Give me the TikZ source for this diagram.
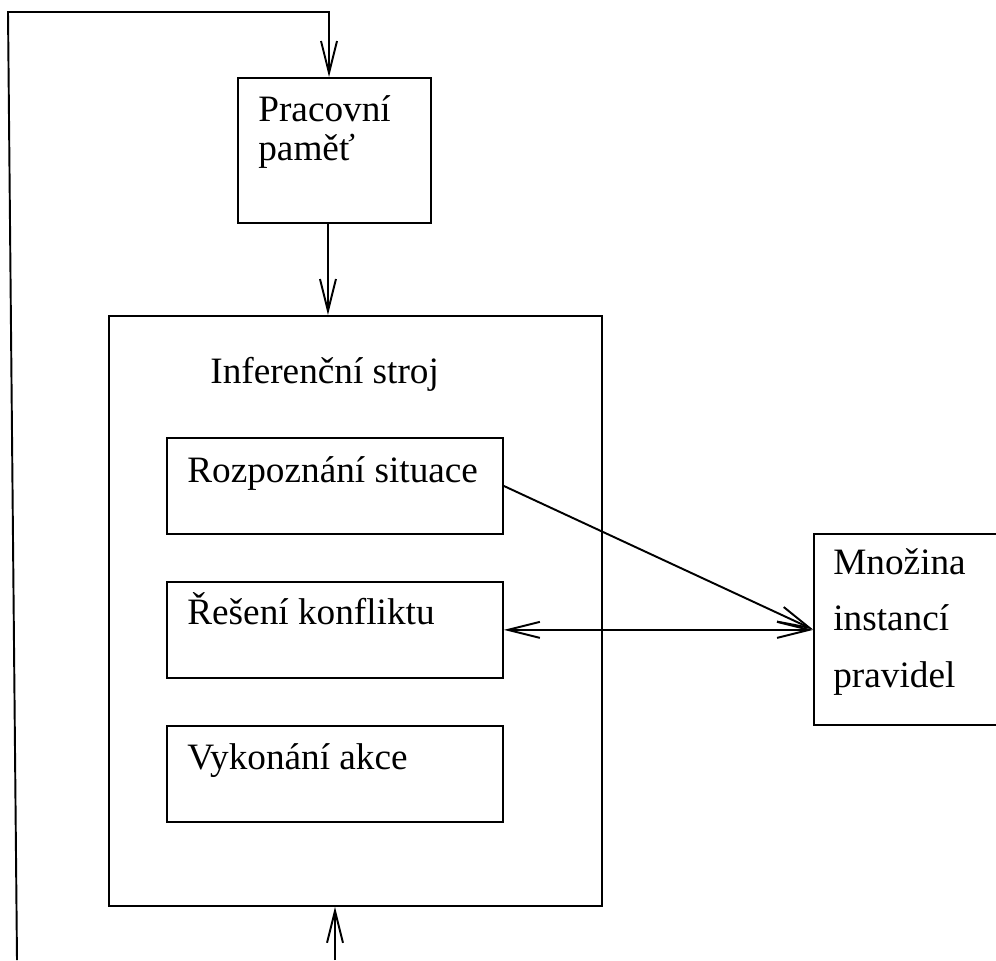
\documentclass[tikz,border=0pt]{standalone}
\usepackage{fontspec}
\setmainfont{Liberation Serif}
\usetikzlibrary{positioning,arrows.meta,calc}
\tikzset{
  flow/.style={-{Straight Barb[length=0.64cm,width=0.32cm]},line width=1.1pt},
  twoway/.style={{Straight Barb[length=0.64cm,width=0.32cm]}-{Straight Barb[length=0.64cm,width=0.32cm]},line width=1.1pt},
  box/.style={draw,line width=1.1pt,inner sep=0pt},
  stepbox/.style={box,minimum width=6.72cm,minimum height=1.92cm},
  txt/.style={inner sep=0pt,anchor=base west,align=left}
}
\begin{document}
\begin{tikzpicture}[x=0.02cm,y=-0.02cm,node distance=0.92cm,font=\fontsize{21.2pt}{22pt}\selectfont]
  \useasboundingbox (0,0) rectangle (996,960);
  % boxes
  \node[box,anchor=north west,minimum width=3.86cm,minimum height=2.9cm] (pam) at (237,77) {};
  \node[box,anchor=north west,minimum width=9.86cm,minimum height=11.8cm] (inf) at (108,315) {};
  \node[stepbox,anchor=north west] (rozp) at (166,437) {};
  \node[stepbox,below=of rozp] (res) {};
  \node[stepbox,below=of res] (vyk) {};
  \node[box,anchor=north west,minimum width=4cm,minimum height=3.82cm] (mno) at (813,533) {};
  % texts (base = last line)
  \node[txt] (pamtxt) at ($(pam.north west)+(21,83)$) {Pracovní\\paměť};
  \node[txt] (inftxt) at ($(inf.north west)+(102,68)$) {Inferenční stroj};
  \node[txt] (rozptxt) at ($(rozp.north west)+(21,45)$) {Rozpoznání situace};
  \node[txt] (restxt) at ($(res.north west)+(21,44)$) {Řešení konfliktu};
  \node[txt] (vyktxt) at ($(vyk.north west)+(21,45)$) {Vykonání akce};
  \node[txt,font=\fontsize{21.2pt}{31.9pt}\selectfont] (mnotxt) at ($(mno.north west)+(20,154)$) {Množina\\instancí\\pravidel};
  % connectors
  \draw[flow] ([xshift=-0.13cm]pam.south) -- ([xshift=-0.13cm]pam.south |- inf.north);
  \draw[flow] (rozp.east) -- (mno.west);
  \draw[twoway] (res.east) -- (res.east -| mno.west);
  % loop round the left side
  \coordinate (loopbl) at (17,960);
  \coordinate (looptl) at (8,12);
  \coordinate (looptr) at (329,12);
  \coordinate (loopin) at (335,960);
  \draw[flow] (loopbl) -- (looptl) -- (looptr) -- (looptr |- pam.north);
  \draw[flow] (loopin) -- (loopin |- inf.south);
\end{tikzpicture}
\end{document}
